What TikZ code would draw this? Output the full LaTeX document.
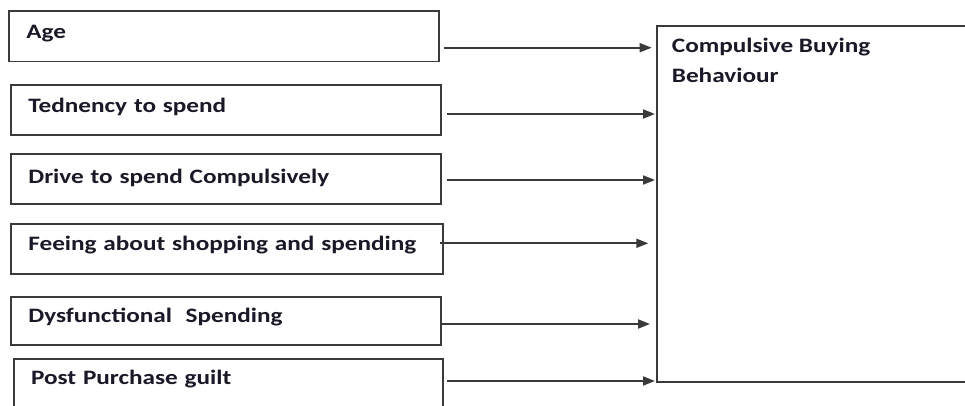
\documentclass[tikz,border=0pt]{standalone}
\usepackage{fontspec}
\setmainfont{Carlito}[FakeStretch=1.23]
\usetikzlibrary{arrows.meta,calc}
\definecolor{linec}{HTML}{3A3A3A}
\definecolor{txtc}{HTML}{1C1828}
\newcommand{\lblfont}{\fontsize{20.5pt}{30pt}\selectfont\bfseries}
\begin{document}
\begin{tikzpicture}[x=1pt,y=-1pt,
  lbox/.style={draw=linec, line width=1.8pt, anchor=north west, inner xsep=17.5pt,
    inner ysep=0pt, align=left, font=\lblfont, text=txtc},
  bigbox/.style={draw=linec, line width=1.8pt, anchor=north west, inner sep=0pt,
    minimum width=340pt, minimum height=356pt},
  btext/.style={anchor=base west, inner sep=0pt, align=left, font=\lblfont, text=txtc},
  arr/.style={draw=linec, line width=1.8pt, -{Triangle[length=12pt,width=9pt]}}]
\clip (0,0) rectangle (965,406);
\fill[white] (0,0) rectangle (965,406);
\node[lbox, text width=395.3pt, text height=27.7pt, text depth=23pt] (b1) at (8,10) {Age};
\node[lbox, text width=395pt, text height=28pt, text depth=22.3pt] (b2) at (10,84) {Tednency to spend};
\node[lbox, text width=395pt, text height=29pt, text depth=20.4pt] (b3) at (10,153.3) {Drive to spend Compulsively};
\node[lbox, text width=397.3pt, text height=27.3pt, text depth=22.7pt] (b4) at (10,222.7) {Feeing about shopping and spending};
\node[lbox, text width=395pt, text height=26pt, text depth=22pt] (b5) at (10,296) {Dysfunctional\ \ Spending};
\node[lbox, text width=394.6pt, text height=25pt, text depth=35pt] (b6) at (12.7,358.3) {Post Purchase guilt};
\node[bigbox] (out) at (655.7,25) {};
\node[btext] (outtxt) at ($(out.north west)+(16,58)$) {Compulsive Buying\\Behaviour};
\draw[arr] ($(b1.north east)+(3.4,37.7)$) -- ($(out.north west)+(-4,22.7)$);
\draw[arr] ($(b2.north east)+(5,30)$) -- ($(out.north west)+(-0.7,89)$);
\draw[arr] ($(b3.north east)+(5,26.7)$) -- ($(out.north west)+(-0.7,155)$);
\draw[arr] ($(b4.north east)+(-4,20.6)$) -- ($(out.north west)+(-7.4,218.3)$);
\draw[arr] ($(b5.north east)+(0,28)$) -- ($(out.north west)+(-5.7,299)$);
\draw[arr] ($(b6.north east)+(2.7,22.7)$) -- ($(out.north west)+(-0.7,356)$);
\end{tikzpicture}
\end{document}
